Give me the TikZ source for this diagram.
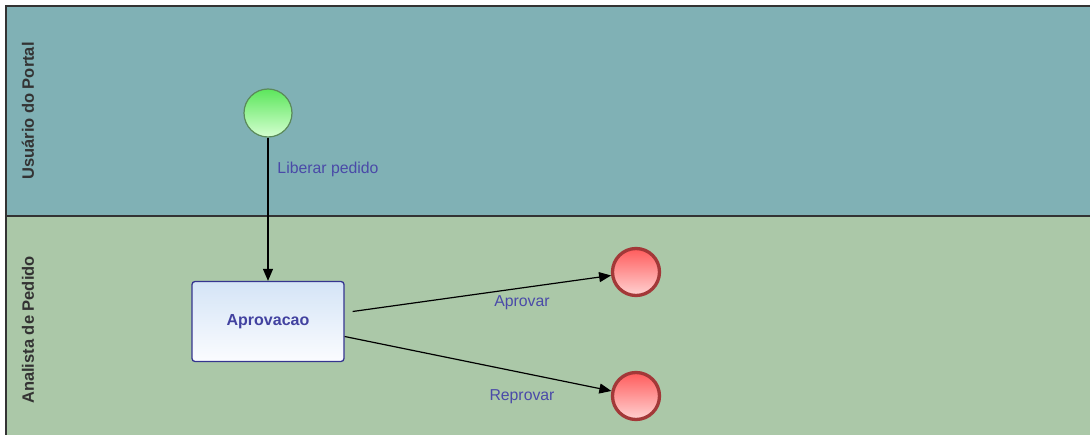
\documentclass[tikz,border=0pt]{standalone}
\usepackage{fontspec}
\setmainfont{Liberation Sans}
\usetikzlibrary{arrows.meta}
\definecolor{laneA}{HTML}{80B1B5}
\definecolor{laneB}{HTML}{ABC8A8}
\definecolor{frame}{HTML}{333333}
\definecolor{lbl}{HTML}{4A4AA8}
\definecolor{tasktop}{HTML}{D4E4F6}
\definecolor{taskbot}{HTML}{FBFCFF}
\definecolor{taskline}{HTML}{35358F}
\definecolor{tasktext}{HTML}{4242A0}
\definecolor{gtop}{HTML}{5CE65C}
\definecolor{gbot}{HTML}{D4FFD0}
\definecolor{gline}{HTML}{5A8A5A}
\definecolor{rtop}{HTML}{FF5C5C}
\definecolor{rbot}{HTML}{FFD2D2}
\definecolor{rline}{HTML}{A33838}
\tikzset{
  lanelabel/.style={rotate=90,font=\fontsize{16.5}{18}\selectfont\bfseries,text=frame,inner sep=0pt},
  startev/.style={circle,draw=gline,line width=1.2pt,top color=gtop,bottom color=gbot,minimum size=48pt,inner sep=0pt},
  endev/.style={circle,draw=rline,line width=3.3pt,top color=rtop,bottom color=rbot,minimum size=47pt,inner sep=0pt},
  taskbox/.style={rectangle,rounded corners=3pt,draw=taskline,line width=1.3pt,top color=tasktop,bottom color=taskbot,minimum width=152pt,minimum height=80pt,inner sep=0pt,font=\fontsize{16}{18}\selectfont\bfseries,text=tasktext},
  flow/.style={draw=black,line width=1.2pt,-{Triangle[length=12pt,width=10pt]}},
  flowlabel/.style={font=\fontsize{15.8}{18}\selectfont,text=lbl,inner sep=0pt}
}
\begin{document}
\begin{tikzpicture}[x=1pt,y=-1pt]
\useasboundingbox (0,0) rectangle (1090,435);
% lanes
\fill[laneA] (6,6) rectangle (1092,216);
\fill[laneB] (6,216) rectangle (1092,437);
\draw[frame,line width=2pt] (1092,6) -- (6,6) -- (6,437);
\draw[frame,line width=2pt] (6,216) -- (1092,216);
\node[lanelabel] (l1) at (28,111) {Usuário do Portal};
\node[lanelabel] (l2) at (28,330) {Analista de Pedido};
% nodes
\node[startev] (s) at (268,113) {};
\node[taskbox] (t) at (268,321.5) {Aprovacao};
\node[endev] (e1) at (636,272) {};
\node[endev] (e2) at (636,396) {};
% flows
\draw[flow] (s.south) -- (t.north);
\draw[flow] ([xshift=8pt,yshift=10pt]t.east) -- (e1);
\draw[flow] ([yshift=-15pt]t.east) -- (e2);
% labels
\node[flowlabel] (f1) at (328,169) {Liberar pedido};
\node[flowlabel] (f2) at (522,303) {Aprovar};
\node[flowlabel] (f3) at (522,397) {Reprovar};
\end{tikzpicture}
\end{document}
